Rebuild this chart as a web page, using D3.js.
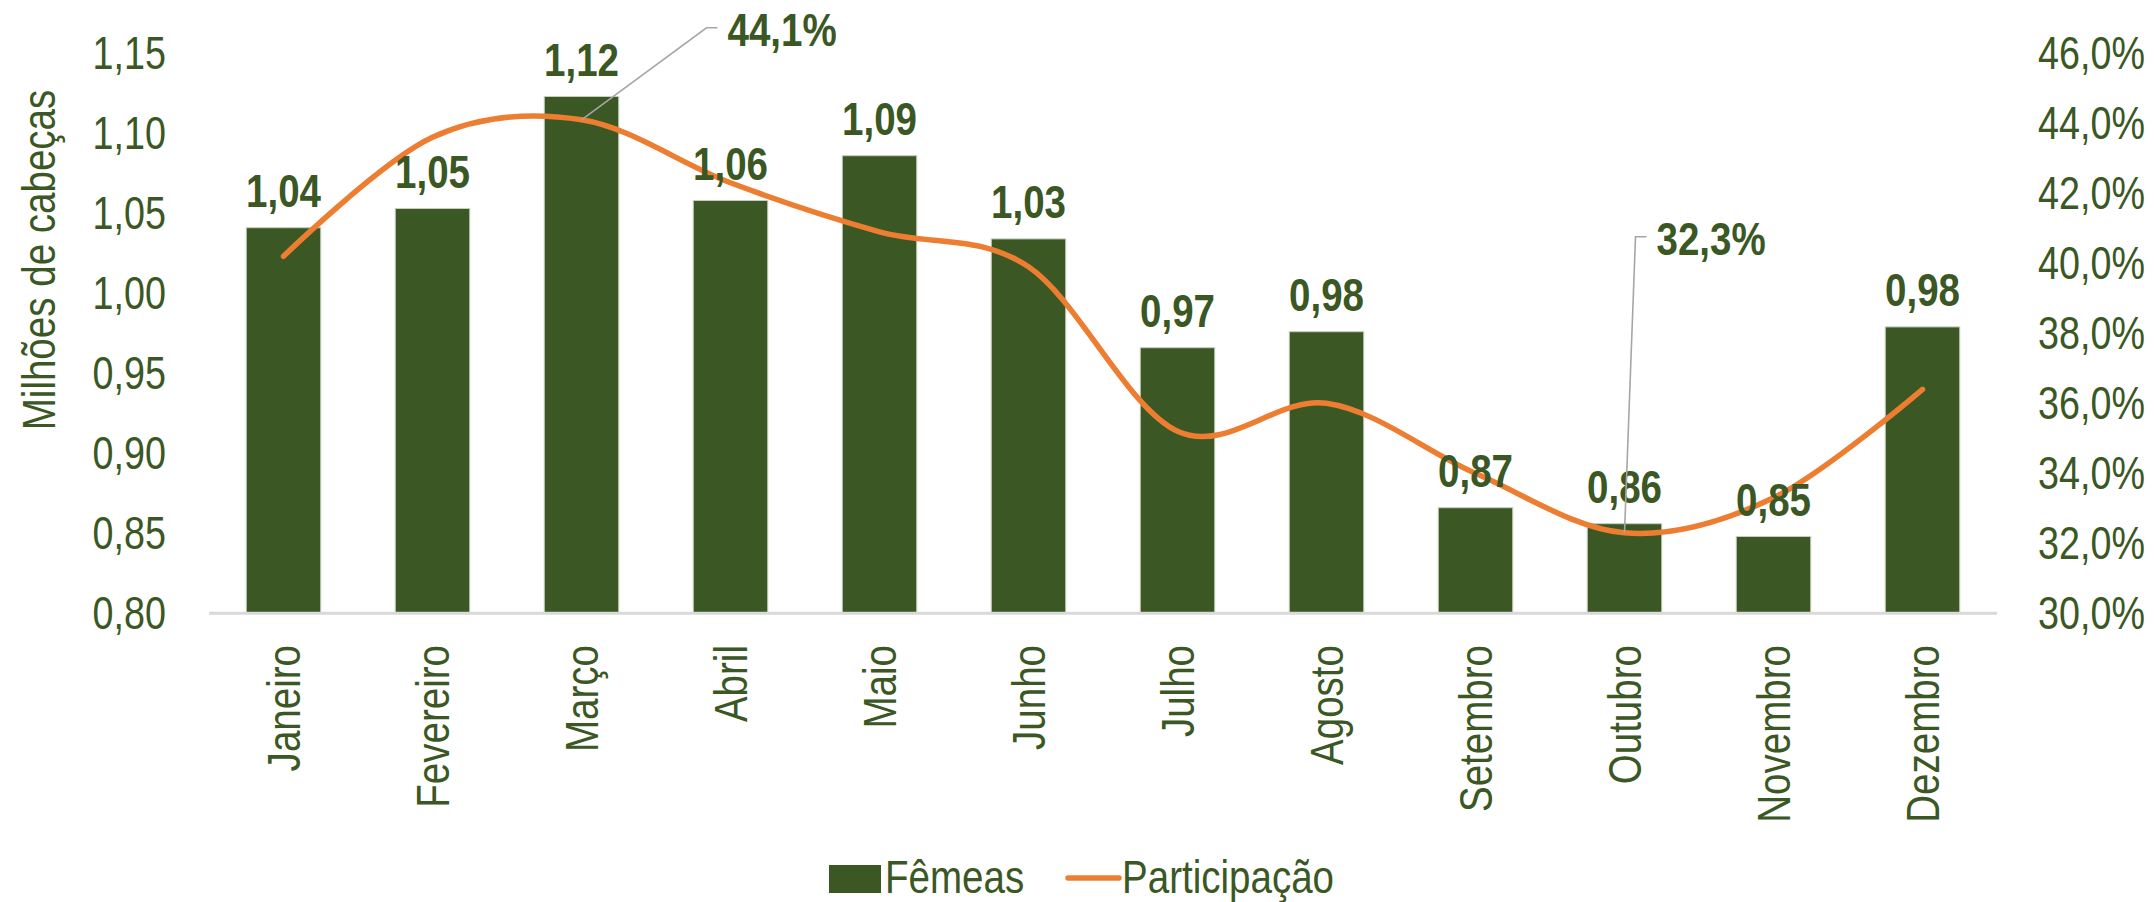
<!DOCTYPE html>
<meta charset="utf-8">
<style>
body { margin: 0; background: #fff; }
text { font-family: "Liberation Sans", Arial, sans-serif; fill: #3A5724; }
.bars rect { fill: #3A5724; stroke: #c8cfc0; stroke-width: 1; }
.axis-line { stroke: #d9d9d9; stroke-width: 3; }
.leader { stroke: #a6a6a6; stroke-width: 1.6; fill: none; }
</style>
<svg width="2154" height="902"></svg>
<script src="https://cdn.jsdelivr.net/npm/d3@7"></script>
<script>

var months = ["Janeiro", "Fevereiro", "Março", "Abril", "Maio", "Junho",
              "Julho", "Agosto", "Setembro", "Outubro", "Novembro", "Dezembro"];

// milhões de cabeças
var femeas = [1.041, 1.053, 1.123, 1.058, 1.086, 1.034, 0.966, 0.976, 0.866, 0.856, 0.848, 0.979];

// participação (%)
var participacao = [40.2, 43.6, 44.1, 42.3, 40.9, 39.9, 35.2, 36.0, 34.0, 32.3, 33.3, 36.4];

var leftTicks = [0.80, 0.85, 0.90, 0.95, 1.00, 1.05, 1.10, 1.15];
var rightTicks = [30, 32, 34, 36, 38, 40, 42, 44, 46];

// months whose participação value gets a callout
var callouts = ["Março", "Outubro"];

// no narrow font installed, so squeeze Liberation Sans like Arial Narrow
var NARROW = 0.82;

var svg = d3.select("svg");

var x = d3.scaleBand()
    .domain(months)
    .range([209, 1997])
    .paddingInner(0.5)
    .paddingOuter(0.25);

var y = d3.scaleLinear().domain([0.80, 1.15]).range([613.3, 53.3]);
var y2 = d3.scaleLinear().domain([30, 46]).range([613.3, 53.3]);

var fmt2 = function(v) { return v.toFixed(2).replace(".", ","); };
var fmtPct = function(v) { return v.toFixed(1).replace(".", ",") + "%"; };

function at(px, py, rot) {
  return "translate(" + px + "," + py + ")" + (rot ? " rotate(" + rot + ")" : "") +
         " scale(" + NARROW + ",1)";
}

// bars
svg.append("g")
    .attr("class", "bars")
  .selectAll("rect")
  .data(months)
  .enter().append("rect")
    .attr("x", function(d) { return x(d); })
    .attr("y", function(d, i) { return y(femeas[i]); })
    .attr("width", x.bandwidth())
    .attr("height", function(d, i) { return y(0.80) - y(femeas[i]); });

// baseline
svg.append("line")
    .attr("class", "axis-line")
    .attr("x1", 209).attr("x2", 1997)
    .attr("y1", y(0.80)).attr("y2", y(0.80));

// left axis
var leftAxis = svg.append("g")
    .attr("transform", "translate(166,0)")
    .call(d3.axisLeft(y).tickValues(leftTicks).tickFormat(fmt2).tickSize(0).tickPadding(0));
leftAxis.select(".domain").remove();
leftAxis.selectAll("text")
    .attr("x", 0)
    .attr("transform", "scale(" + NARROW + ",1)")
    .attr("font-size", 46)
    .attr("font-family", null)
    .attr("fill", null);

// right axis
var rightAxis = svg.append("g")
    .attr("transform", "translate(2038,0)")
    .call(d3.axisRight(y2).tickValues(rightTicks).tickFormat(fmtPct).tickSize(0).tickPadding(0));
rightAxis.select(".domain").remove();
rightAxis.selectAll("text")
    .attr("x", 0)
    .attr("transform", "scale(" + NARROW + ",1)")
    .attr("font-size", 46)
    .attr("font-family", null)
    .attr("fill", null);

// axis title
svg.append("text")
    .attr("transform", at(55, 260, -90))
    .attr("text-anchor", "middle")
    .attr("font-size", 47)
    .text("Milhões de cabeças");

// month labels
svg.append("g")
  .selectAll("text")
  .data(months)
  .enter().append("text")
    .attr("transform", function(d) { return at(x(d) + x.bandwidth() / 2, 645, -90); })
    .attr("text-anchor", "end")
    .attr("dy", "0.35em")
    .attr("font-size", 47)
    .text(function(d) { return d; });

// line
var line = d3.line()
    .x(function(d, i) { return x(months[i]) + x.bandwidth() / 2; })
    .y(function(d) { return y2(d); })
    .curve(d3.curveCardinal.tension(0));

svg.append("path")
    .datum(participacao)
    .attr("d", line)
    .attr("fill", "none")
    .attr("stroke", "#ED7D31")
    .attr("stroke-width", 5.5)
    .attr("stroke-linecap", "round");

// bar value labels
svg.append("g")
  .selectAll("text")
  .data(months)
  .enter().append("text")
    .attr("transform", function(d, i) {
      return at(x(d) + x.bandwidth() / 2, y(femeas[i]) - 21);
    })
    .attr("text-anchor", "middle")
    .attr("font-size", 47)
    .attr("font-weight", "bold")
    .text(function(d, i) { return fmt2(femeas[i]); });

// callouts for participação
var calloutOffset = { "Março": [125, -92], "Outubro": [11, -296] };
callouts.forEach(function(m) {
  var i = months.indexOf(m);
  var px = x(m) + x.bandwidth() / 2,
      py = y2(participacao[i]);
  var ox = px + calloutOffset[m][0],
      oy = py + calloutOffset[m][1];
  svg.append("path")
      .attr("class", "leader")
      .attr("d", "M" + px + "," + py + "L" + ox + "," + oy + "L" + (ox + 11) + "," + oy);
  svg.append("text")
      .attr("transform", at(ox + 21, oy + 18))
      .attr("font-size", 47)
      .attr("font-weight", "bold")
      .text(fmtPct(participacao[i]));
});

// legend
var legend = svg.append("g");
legend.append("rect")
    .attr("x", 829).attr("y", 865)
    .attr("width", 52).attr("height", 28)
    .attr("fill", "#3A5724");
legend.append("text")
    .attr("transform", at(885, 893))
    .attr("font-size", 47)
    .text("Fêmeas");
legend.append("line")
    .attr("x1", 1068).attr("x2", 1119)
    .attr("y1", 878).attr("y2", 878)
    .attr("stroke", "#ED7D31")
    .attr("stroke-width", 5.5)
    .attr("stroke-linecap", "round");
legend.append("text")
    .attr("transform", at(1122, 893))
    .attr("font-size", 47)
    .text("Participação");

</script>
